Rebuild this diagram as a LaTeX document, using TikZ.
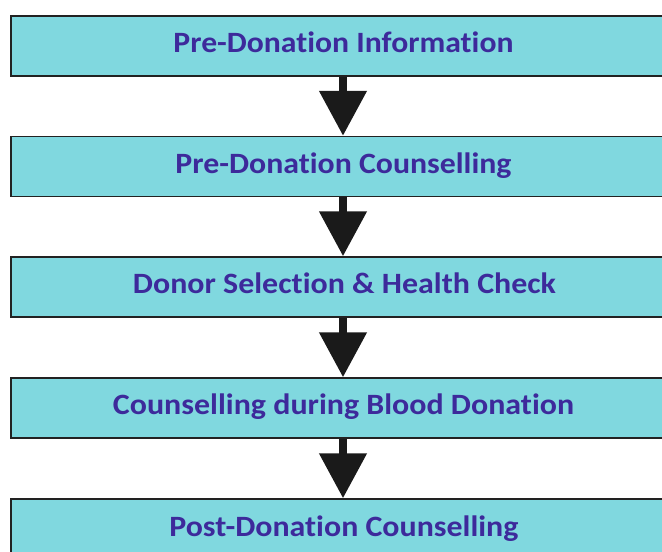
\documentclass[tikz,border=0pt]{standalone}
\usepackage{fontspec}
\setmainfont{Carlito}[Ligatures=NoCommon]
\usetikzlibrary{arrows.meta}

\definecolor{stagefill}{RGB}{128,216,223}
\definecolor{stageink}{RGB}{61,42,155}
\definecolor{flowink}{RGB}{26,26,26}

\newcommand{\stagelabel}[2]{\resizebox{#1pt}{\height}{#2}}

\tikzset{every picture/.style={line width=1.5pt}}

\begin{document}
\begin{tikzpicture}[x=1pt,y=1pt,yscale=-1,xscale=1,
  stage/.style={draw={rgb,255:red,34;green,34;blue,34},fill=stagefill,minimum width=664pt,minimum height=60pt,inner sep=0pt},
  stagetext/.style={anchor=base,text=stageink,font=\bfseries\fontsize{29.5}{34}\selectfont,inner sep=0pt},
  flow/.style={draw=flowink,line width=8pt,-{Triangle[width=46pt,length=45pt]}}]
\useasboundingbox (0,0) rectangle (662,552);
\clip (0,0) rectangle (662,552);

%Shape: Rectangle [id:stage1]
\node[stage] (b1) at (343,46) {};
%Shape: Rectangle [id:stage2]
\node[stage] (b2) at (343,166.5) {};
%Shape: Rectangle [id:stage3]
\node[stage] (b3) at (343,287) {};
%Shape: Rectangle [id:stage4]
\node[stage] (b4) at (343,408) {};
%Shape: Rectangle [id:stage5]
\node[stage] (b5) at (343,529) {};

% Text Node
\node[stagetext] (t1) at (343.5,52.5) {\stagelabel{340}{Pre-Donation Information}};
% Text Node
\node[stagetext] (t2) at (343.5,173) {\stagelabel{336}{Pre-Donation Counselling}};
% Text Node
\node[stagetext] (t3) at (344.5,293.5) {\stagelabel{423}{Donor Selection \& Health Check}};
% Text Node
\node[stagetext] (t4) at (343.5,414.5) {\stagelabel{461}{Counselling during Blood Donation}};
% Text Node
\node[stagetext] (t5) at (343.8,536.5) {\stagelabel{349}{Post-Donation Counselling}};

%Straight Lines [id:flow1..4]
\foreach \a/\b in {b1/b2,b2/b3,b3/b4,b4/b5}
  \draw[flow] (\a.south) -- (\b.north);
\end{tikzpicture}
\end{document}
